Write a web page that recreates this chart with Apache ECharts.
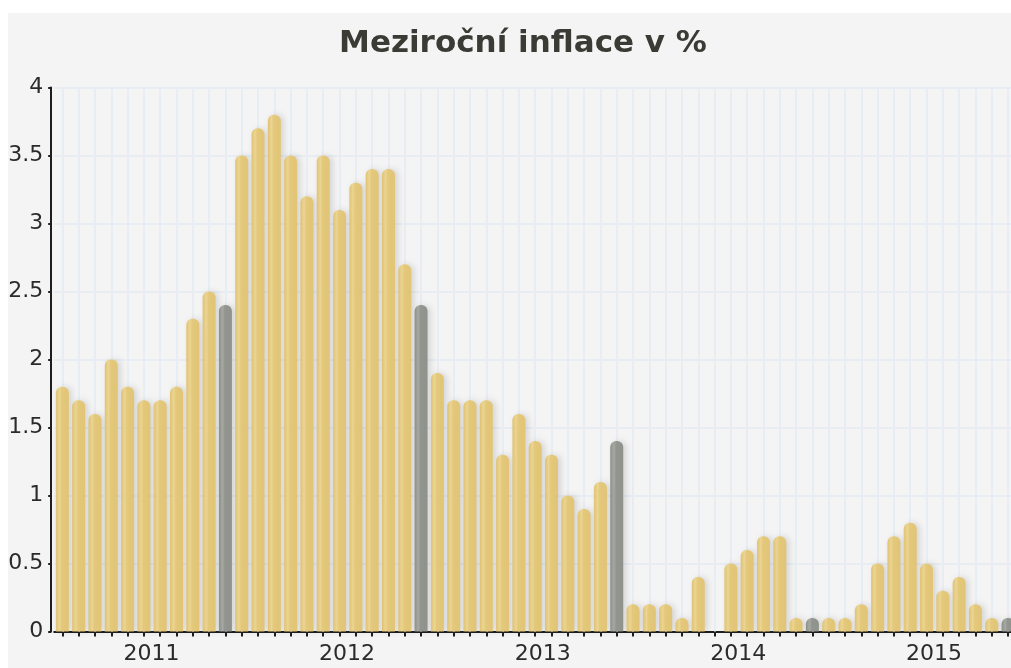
<!DOCTYPE html>
<html>
<head>
<meta charset="utf-8">
<script src="https://cdn.jsdelivr.net/npm/echarts@6/dist/echarts.min.js"></script>
<style>
html,body{margin:0;padding:0;background:#ffffff;width:1011px;height:668px;overflow:hidden;}
#chart{position:absolute;left:8px;top:13px;width:1003px;height:655px;background:#f4f4f4;}
</style>
</head>
<body>
<div id="chart"></div>
<script>
// Months Feb 2011 .. Dec 2015
const months = [
 '2011-02','2011-03','2011-04','2011-05','2011-06','2011-07','2011-08','2011-09','2011-10','2011-11','2011-12',
 '2012-01','2012-02','2012-03','2012-04','2012-05','2012-06','2012-07','2012-08','2012-09','2012-10','2012-11','2012-12',
 '2013-01','2013-02','2013-03','2013-04','2013-05','2013-06','2013-07','2013-08','2013-09','2013-10','2013-11','2013-12',
 '2014-01','2014-02','2014-03','2014-04','2014-05','2014-06','2014-07','2014-08','2014-09','2014-10','2014-11','2014-12',
 '2015-01','2015-02','2015-03','2015-04','2015-05','2015-06','2015-07','2015-08','2015-09','2015-10','2015-11','2015-12'
];
const inflation = [
 1.8,1.7,1.6,2.0,1.8,1.7,1.7,1.8,2.3,2.5,2.4,
 3.5,3.7,3.8,3.5,3.2,3.5,3.1,3.3,3.4,3.4,2.7,2.4,
 1.9,1.7,1.7,1.7,1.3,1.6,1.4,1.3,1.0,0.9,1.1,1.4,
 0.2,0.2,0.2,0.1,0.4,0.0,0.5,0.6,0.7,0.7,0.1,0.1,
 0.1,0.1,0.2,0.5,0.7,0.8,0.5,0.3,0.4,0.2,0.1,0.1
];
const yTicks = [0,0.5,1,1.5,2,2.5,3,3.5,4];
const titleText = 'Meziroční inflace v %';

const FONT = 'DejaVu Sans';
function grad(c0,c1,c2,c3){
  return {type:'linear',x:0,y:0,x2:1,y2:0,colorStops:[
    {offset:0,color:c0},{offset:0.28,color:c1},{offset:0.45,color:c2},{offset:1,color:c3}]};
}
const yellow = grad('#dfbf69','#ecd48c','#e5c774','#e2c36e');
const grey = grad('#868882','#a2a49e','#8e908a','#8a8c86');

const barData = inflation.map((v,i)=>({
  value:v,
  itemStyle:{color: months[i].endsWith('-12') ? grey : yellow}
}));

const chart = echarts.init(document.getElementById('chart'));
chart.setOption({
  animation:false,
  backgroundColor:'#f4f4f4',
  title:{
    text:titleText, left:510, top:10, textAlign:'center',
    textStyle:{fontFamily:FONT,fontSize:31,fontWeight:'bold',color:'#3b3b35'}
  },
  grid:{left:46.2, top:74.5, width:962, bottom:36.5, containLabel:false, outerBoundsMode:'none'},
  xAxis:[{
    type:'category', data:months, boundaryGap:true,
    axisLine:{show:true,lineStyle:{color:'#1e1e1e',width:2}},
    axisTick:{show:true,alignWithLabel:true,interval:0,length:5,lineStyle:{color:'#1e1e1e',width:2}},
    axisLabel:{
      interval:0, margin:12, fontFamily:FONT, fontSize:22, color:'#2b2b2b',
      padding:[0,0,0,15],
      formatter:(v)=> v.endsWith('-07') ? v.slice(0,4) : ''
    },
    splitLine:{show:false}
  },{
    type:'category', data:months, boundaryGap:true, position:'bottom',
    axisLine:{show:false},
    axisLabel:{show:false},
    axisTick:{show:true,inside:true,alignWithLabel:true,interval:0,length:544,lineStyle:{color:'#e8ecf3',width:2}},
    splitLine:{show:false}
  }],
  yAxis:{
    type:'value', min:0, max:4, interval:0.5, offset:3,
    axisLine:{show:true,lineStyle:{color:'#1e1e1e',width:2}},
    axisTick:{show:true,length:3,lineStyle:{color:'#1e1e1e',width:2}},
    axisLabel:{margin:8,fontFamily:FONT,fontSize:22,color:'#2b2b2b',
      formatter:(v)=> String(yTicks.find(t=>Math.abs(t-v)<1e-9) ?? v)},
    splitLine:{show:true,lineStyle:{color:'#e8ecf3',width:2}}
  },
  series:[{
    type:'bar', xAxisIndex:0, data:barData, barWidth:13,
    itemStyle:{borderRadius:[6,6,0,0],opacity:0.93,
      shadowColor:'rgba(0,0,0,0.14)',shadowBlur:6,shadowOffsetX:3,shadowOffsetY:0}
  }]
});
</script>
</body>
</html>
